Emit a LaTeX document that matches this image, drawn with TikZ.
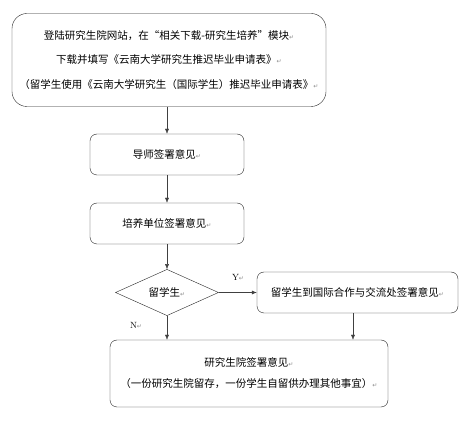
\documentclass[tikz,border=0pt]{standalone}
\usepackage{fontspec}
\newfontfamily\cjk{Noto Sans CJK SC}
\newfontfamily\symfont{DejaVu Sans}
\usetikzlibrary{shapes.geometric,arrows.meta}
\newcommand\pmark{{\symfont\fontsize{6}{6}\selectfont\color{black!45}↵}}
\tikzset{
  flowbox/.style={
    draw=black!85,
    rounded corners=7pt,
    minimum width=154pt,
    minimum height=41pt,
    inner sep=0pt,
    align=center,
    font={\cjk\fontsize{10.5}{12}\selectfont}
  },
  decision/.style={
    draw=black!85,
    shape=diamond,
    minimum width=103pt,
    minimum height=39pt,
    inner sep=0pt,
    font={\cjk\fontsize{10.5}{12}\selectfont}
  },
  flow/.style={
    draw=black!75,
    -{Latex[length=5pt,width=4pt]}
  },
  branch/.style={
    font={\fontsize{9}{10}\selectfont}
  }
}
\begin{document}
\begin{tikzpicture}[x=1pt,y=-1pt]
    \fill[white] (0,0) rectangle (472,422);
    \useasboundingbox (0,0) rectangle (472,422);
    % steps
    \node[flowbox, rounded corners=15pt, minimum width=314pt, minimum height=93pt,
          font={\cjk\fontsize{10.5}{24.5}\selectfont}] (apply) at (169,60)
        {登陆研究生院网站，在“相关下载-研究生培养”模块\pmark\\
         下载并填写《云南大学研究生推迟毕业申请表》\pmark\\
         （留学生使用《云南大学研究生（国际学生）推迟毕业申请表》\pmark};
    \node[flowbox] (tutor) at (167,154.5) {导师签署意见\pmark};
    \node[flowbox] (unit) at (167,223.5) {培养单位签署意见\pmark};
    \node[decision] (intl) at (167,292.5) {留学生\pmark};
    \node[flowbox, minimum width=201pt] (office) at (357.5,292.5)
        {留学生到国际合作与交流处签署意见\pmark};
    \node[flowbox, minimum width=278pt, minimum height=67pt,
          font={\cjk\fontsize{10.5}{21}\selectfont}] (grad) at (249,373.5)
        {研究生院签署意见\pmark\\
         （一份研究生院留存，一份学生自留供办理其他事宜）\pmark};
    % connectors
    \draw[flow] (tutor.north |- apply.south) -- (tutor.north);
    \draw[flow] (tutor) -- (unit);
    \draw[flow] (unit) -- (intl);
    \draw[flow] (intl.east) -- (office.west);
    \draw[flow] (intl.south) -- (intl.south |- grad.north);
    \draw[flow] ([xshift=-4.5pt]office.south) -- ([xshift=-4.5pt]office.south |- grad.north);
    % branch labels
    \node[branch] (yes) at (238,277) {Y\pmark};
    \node[branch] (no) at (136,325) {N\pmark};
\end{tikzpicture}
\end{document}
